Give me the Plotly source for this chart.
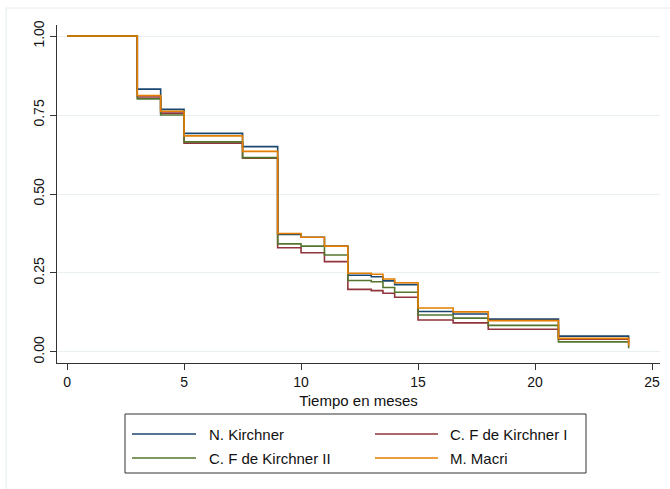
import plotly.graph_objects as go

# ---- data ----
times = [0, 3, 4, 5, 7.5, 9, 10, 11, 12, 13, 13.5, 14, 15, 16.5, 18, 21, 24]
series_names = ["N. Kirchner", "C. F de Kirchner I", "C. F de Kirchner II", "M. Macri"]
surv_nk = [1.0, 0.832, 0.768, 0.692, 0.650, 0.372, 0.363, 0.335, 0.243, 0.238, 0.225, 0.213, 0.128, 0.120, 0.104, 0.050, 0.040]
surv_cfk1 = [1.0, 0.807, 0.756, 0.661, 0.613, 0.330, 0.314, 0.286, 0.198, 0.194, 0.186, 0.173, 0.101, 0.092, 0.072, 0.040, 0.030]
surv_cfk2 = [1.0, 0.801, 0.750, 0.665, 0.615, 0.342, 0.335, 0.307, 0.226, 0.222, 0.204, 0.189, 0.117, 0.107, 0.084, 0.032, 0.012]
surv_mm = [1.0, 0.812, 0.762, 0.684, 0.635, 0.375, 0.363, 0.335, 0.249, 0.246, 0.231, 0.219, 0.139, 0.127, 0.099, 0.043, 0.020]
x_ticks = [0, 5, 10, 15, 20, 25]
y_ticks = [0.0, 0.25, 0.5, 0.75, 1.0]
y_ticklabels = ["0.00", "0.25", "0.50", "0.75", "1.00"]
x_title = "Tiempo en meses"

colors = ["#1a476f", "#90353b", "#55752f", "#e37e00"]
all_surv = [surv_nk, surv_cfk1, surv_cfk2, surv_mm]

fig = go.Figure()
for name, s, c in zip(series_names, all_surv, colors):
    fig.add_trace(go.Scatter(x=times, y=s, mode="lines", name=name,
                             line=dict(color=c, width=1.6, shape="hv"),
                             showlegend=False, hoverinfo="skip", cliponaxis=False))

W, H = 670, 489
L, R, T, B = 57, 10, 25, 126
pw, ph = W - L - R, H - T - B

def px(xp):
    return (xp - L) / pw

def py(yp):
    return (H - B - yp) / ph

shapes = []
# outer light frame
shapes.append(dict(type="rect", xref="paper", yref="paper",
                   x0=px(6), x1=px(680), y0=py(500), y1=py(8),
                   line=dict(color="#e4ecef", width=1), layer="below"))
# legend box
lx0, lx1, ly0, ly1 = 125, 586, 414, 473
shapes.append(dict(type="rect", xref="paper", yref="paper",
                   x0=px(lx0), x1=px(lx1), y0=py(ly1), y1=py(ly0),
                   line=dict(color="#333333", width=1), fillcolor="white"))
annotations = []
slots = [(132, 196, 207, 434), (375, 438, 448, 434), (132, 196, 207, 458), (375, 438, 448, 458)]
for (a, b_, tx, yy), name, c in zip(slots, series_names, colors):
    shapes.append(dict(type="line", xref="paper", yref="paper",
                       x0=px(a), x1=px(b_), y0=py(yy), y1=py(yy),
                       line=dict(color=c, width=1.6)))
    annotations.append(dict(xref="paper", yref="paper", x=px(tx), y=py(yy),
                            text=name, showarrow=False, xanchor="left", yanchor="middle",
                            font=dict(size=15, color="#111111")))

fig.update_layout(
    width=W, height=H,
    margin=dict(l=L, r=R, t=T, b=B, pad=0, autoexpand=False),
    paper_bgcolor="white", plot_bgcolor="white",
    font=dict(family="Liberation Sans, Arial, sans-serif", size=14, color="#111111"),
    shapes=shapes, annotations=annotations,
    xaxis=dict(range=[-0.43, 25.34], tickvals=x_ticks, ticks="outside", ticklen=6,
               tickcolor="#333333", showline=True, linecolor="#333333", linewidth=1,
               showgrid=False, zeroline=False, automargin=False,
               title=dict(text=x_title, font=dict(size=15), standoff=6),
               tickfont=dict(size=14)),
    yaxis=dict(range=[-0.035, 1.035], tickvals=y_ticks, ticktext=y_ticklabels,
               ticks="outside", ticklen=6, tickcolor="#333333", tickangle=-90,
               showline=True, linecolor="#333333", linewidth=1, automargin=False,
               showgrid=True, gridcolor="#e8f0f2", gridwidth=1, zeroline=False,
               tickfont=dict(size=14)),
)

fig.write_html("out.html", config={"displayModeBar": False},
               post_script="document.body.style.margin='0';document.body.style.overflow='hidden';")
